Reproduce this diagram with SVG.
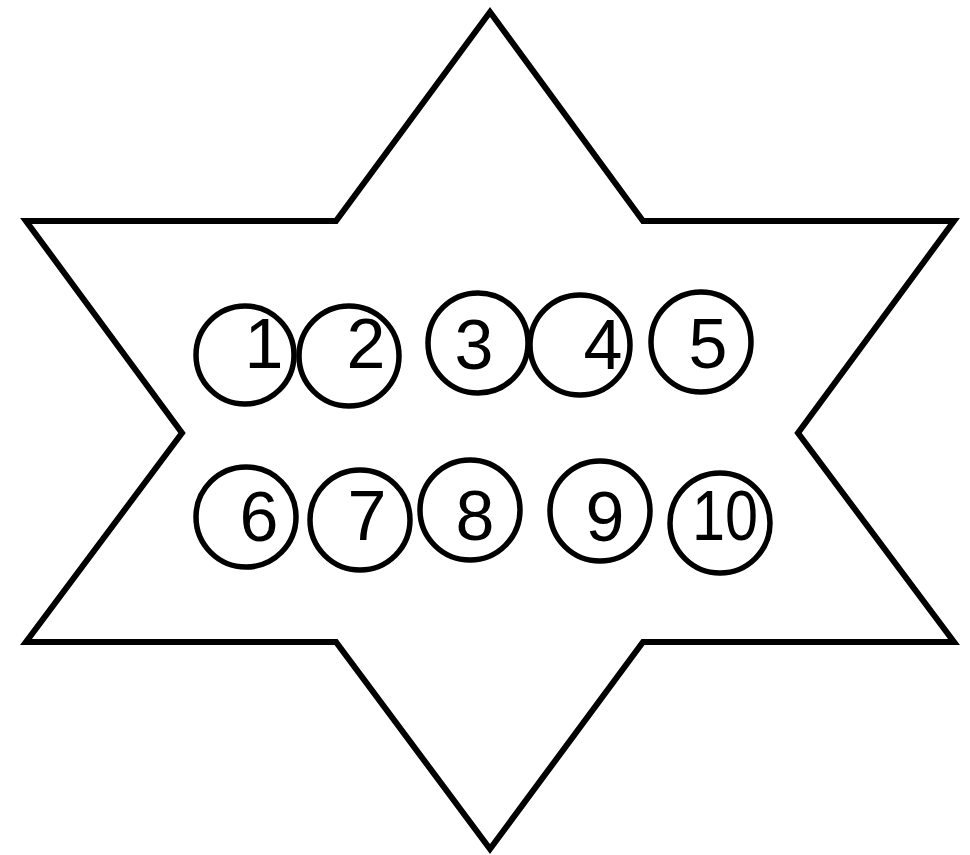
<svg xmlns="http://www.w3.org/2000/svg" width="970" height="855" viewBox="0 0 970 855">
<style>
.star{fill:#fff;stroke:#000;stroke-width:6;stroke-linejoin:miter}
.c{fill:none;stroke:#000;stroke-width:5.5}
.t{font-family:"Liberation Sans",Arial,sans-serif;font-size:70px;fill:#000;text-anchor:middle}
</style>
<rect width="970" height="855" fill="#fff"/>
<g id="star">
<polygon class="star" points="490,12 643,221 954,221 798,433 954,642 643,642 490,849 336,642 26,642 182,433 26,221 336,221"/>
</g>
<g id="n1"><circle class="c" cx="245" cy="355" r="49"/><text class="t" x="264" y="368">1</text></g>
<g id="n2"><circle class="c" cx="349" cy="356" r="50"/><text class="t" x="366" y="368">2</text></g>
<g id="n3"><circle class="c" cx="478" cy="343" r="50"/><text class="t" x="474" y="369">3</text></g>
<g id="n4"><circle class="c" cx="580" cy="345" r="50"/><text class="t" x="603" y="369">4</text></g>
<g id="n5"><circle class="c" cx="701" cy="342" r="50"/><text class="t" x="708" y="368">5</text></g>
<g id="n6"><circle class="c" cx="246" cy="517" r="50"/><text class="t" x="259" y="541">6</text></g>
<g id="n7"><circle class="c" cx="360" cy="520" r="50"/><text class="t" x="367" y="540">7</text></g>
<g id="n8"><circle class="c" cx="470" cy="510" r="50"/><text class="t" x="475" y="540">8</text></g>
<g id="n9"><circle class="c" cx="600" cy="511" r="50"/><text class="t" x="605" y="541">9</text></g>
<g id="n10"><circle class="c" cx="720" cy="523" r="50"/><text class="t" x="725" y="540" textLength="66" lengthAdjust="spacingAndGlyphs">10</text></g>
<g id="connectors"/>
</svg>
